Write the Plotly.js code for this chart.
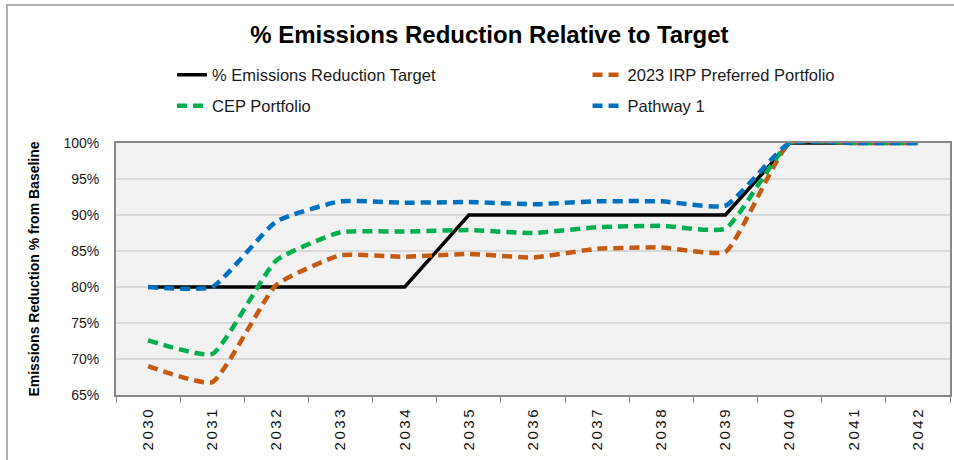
<!DOCTYPE html>
<html>
<head>
<meta charset="utf-8">
<script src="https://cdn.plot.ly/plotly-3.0.1.min.js"></script>
<style>
html,body{margin:0;padding:0;background:#fff;}
#frame{position:absolute;left:6px;top:4px;width:960px;height:470px;border-top:2px solid #b0b0b0;border-left:2px solid #b0b0b0;pointer-events:none;z-index:5;}
#chart{position:absolute;left:0;top:0;width:954px;height:460px;}
.xtick text{letter-spacing:2.5px;}
</style>
</head>
<body>
<div id="chart"></div>
<div id="frame"></div>
<script>
const years = ['2030','2031','2032','2033','2034','2035','2036','2037','2038','2039','2040','2041','2042'];
const target = [80,80,80,80,80,90,90,90,90,90,100,100,100];
const irp = [69.0,66.8,80.3,84.4,84.2,84.6,84.1,85.3,85.5,84.9,100,100,100];
const cep = [72.6,70.7,83.7,87.6,87.7,87.9,87.5,88.3,88.5,88.1,100,100,100];
const pathway1 = [80,80,89.1,91.9,91.7,91.8,91.5,91.9,91.9,91.3,100,100,100];
const yTicks = [65,70,75,80,85,90,95,100];
const yTickText = ['65%','70%','75%','80%','85%','90%','95%','100%'];

const legFont = {family:'Liberation Sans, Arial, sans-serif', size:16.5, color:'#1a1a1a'};
const traces = [
  {x:years, y:target, name:'% Emissions Reduction Target', mode:'lines', line:{color:'#000000', width:3.5}, legend:'legend'},
  {x:years, y:irp, name:'2023 IRP Preferred Portfolio', mode:'lines', line:{color:'#C55A11', width:4.5, dash:'10px,6px', shape:'spline', smoothing:0.45}, legend:'legend2'},
  {x:years, y:cep, name:'CEP Portfolio', mode:'lines', line:{color:'#00B050', width:4.5, dash:'10px,6px', shape:'spline', smoothing:0.45}, legend:'legend3'},
  {x:years, y:pathway1, name:'Pathway 1', mode:'lines', line:{color:'#0070C0', width:4.5, dash:'10px,6px', shape:'spline', smoothing:0.45}, legend:'legend4'}
];

function leg(x, y) {
  return {x:x, xanchor:'left', y:y, yanchor:'middle', font:legFont, bgcolor:'rgba(0,0,0,0)', borderwidth:0};
}

const layout = {
  width:954, height:460,
  margin:{l:116, r:4, t:143, b:65},
  paper_bgcolor:'#ffffff',
  plot_bgcolor:'#F2F2F2',
  title:{text:'<b>% Emissions Reduction Relative to Target</b>', x:0.513, xanchor:'center', xref:'container', y:0.925, yanchor:'middle', yref:'container',
         font:{family:'Liberation Sans, Arial, sans-serif', size:24, color:'#000'}},
  xaxis:{type:'category', range:[-0.5,12.5], tickangle:-90, tickson:'boundaries', ticks:'outside', ticklen:6, tickcolor:'#888',
         showline:true, linecolor:'#888', linewidth:2, mirror:true, showgrid:false, ticklabelstandoff:4,
         tickfont:{family:'Liberation Sans, Arial, sans-serif', size:15, color:'#111'}, fixedrange:true},
  yaxis:{range:[65,100], tickvals:yTicks, ticktext:yTickText, showgrid:true, gridcolor:'#D9D9D9', gridwidth:1.5,
         showline:true, linecolor:'#888', linewidth:2, mirror:true, ticks:'', zeroline:false, ticklabelstandoff:12,
         tickfont:{family:'Liberation Sans, Arial, sans-serif', size:14, color:'#1a1a1a'},
         title:{text:'<b>Emissions Reduction % from Baseline</b>', standoff:20, font:{family:'Liberation Sans, Arial, sans-serif', size:14, color:'#000'}}, fixedrange:true},
  legend: leg(0.0672, 1.27),
  legend2: leg(0.5654, 1.27),
  legend3: leg(0.0672, 1.147),
  legend4: leg(0.5654, 1.147),
  showlegend:true
};
Plotly.newPlot('chart', traces, layout, {displayModeBar:false, staticPlot:true});
</script>
</body>
</html>
